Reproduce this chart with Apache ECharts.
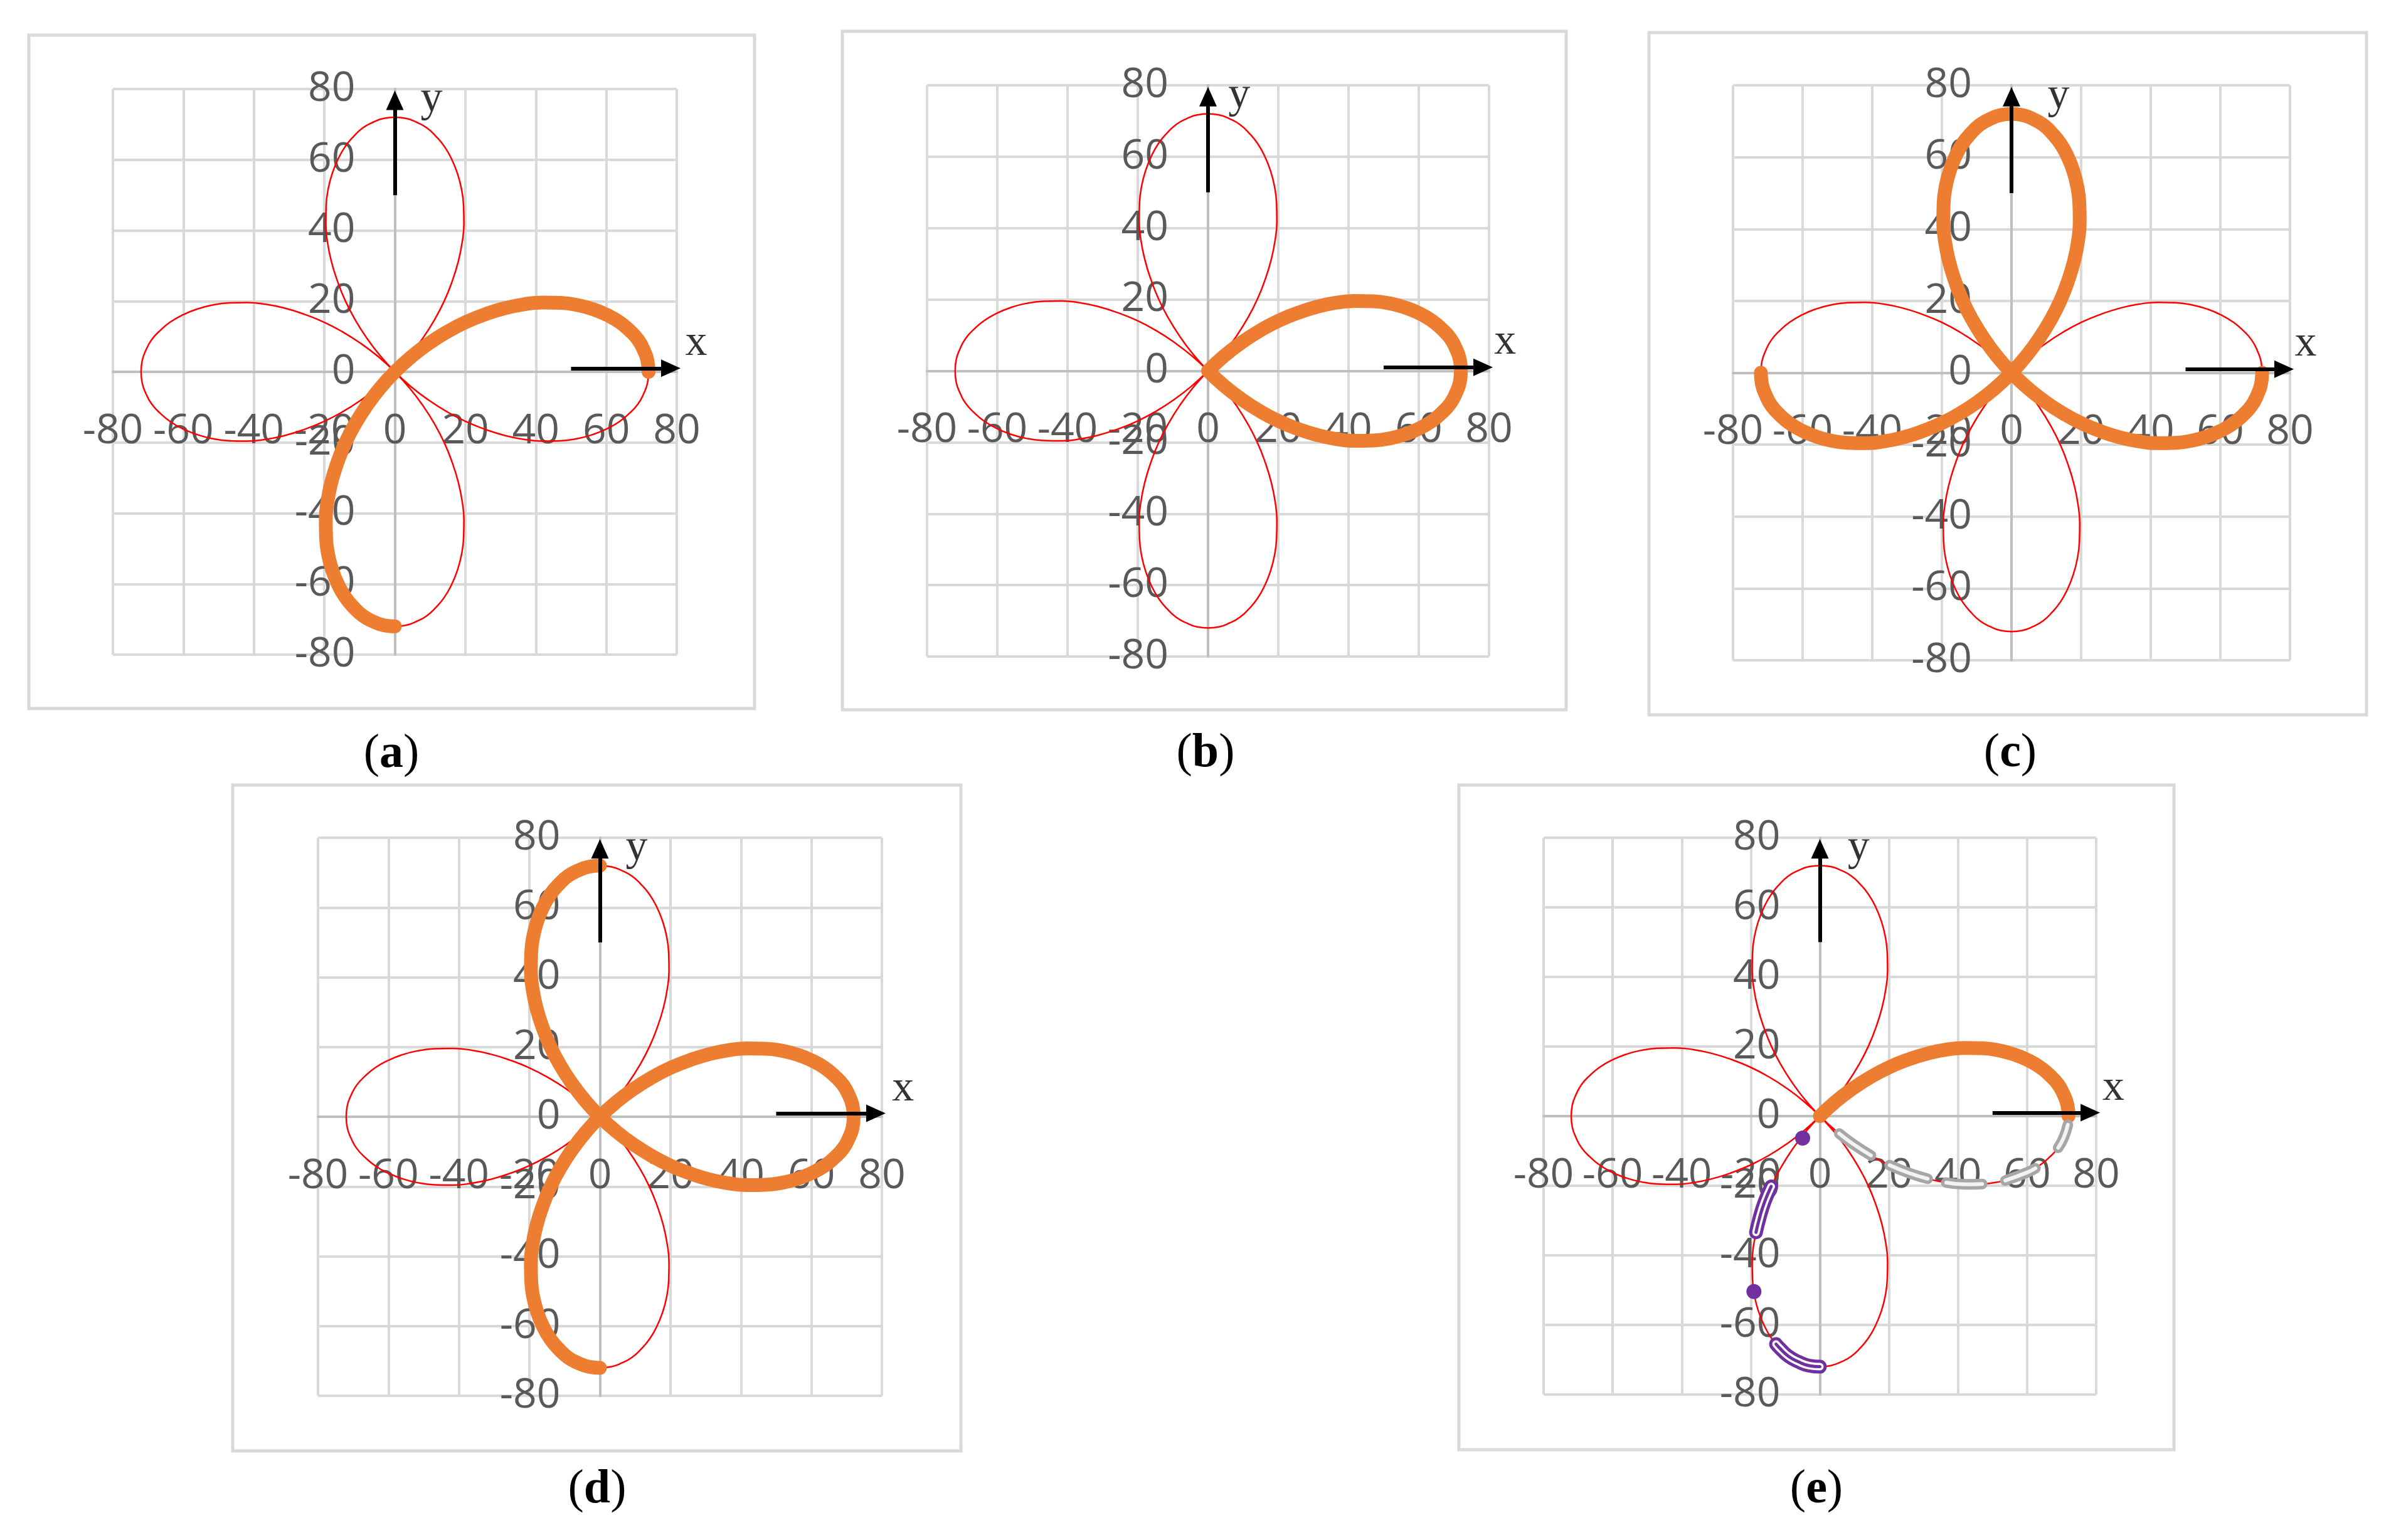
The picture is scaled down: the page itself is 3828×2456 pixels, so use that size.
<!DOCTYPE html>
<html>
<head>
<meta charset="utf-8">
<title>Four-leaf rose paths</title>
<script src="https://cdn.jsdelivr.net/npm/echarts@6/dist/echarts.min.js"></script>
<style>
  html, body { margin: 0; padding: 0; background: #fff; }
  #chart { width: 3828px; height: 2456px; }
</style>
</head>
<body>
<div id="chart"></div>
<script>
// axis ticks (same on both axes, every panel)
const axisMin = -80;
const axisMax = 80;
const axisStep = 20;

// the rose, half a petal per array, in drawing order
const rightUpper = [[72, 0], [71.7, 3.1], [70.6, 6.2], [69.0, 9.1], [66.6, 11.7], [63.7, 14.1], [60.2, 16.1], [56.3, 17.7], [51.8, 18.9], [47.0, 19.5], [41.9, 19.6], [36.6, 19.1], [31.2, 18.0], [25.7, 16.3], [20.2, 14.1], [14.8, 11.3], [9.6, 8.0], [4.6, 4.2], [0, 0]];
const bottomLeft = [[0, 0], [-4.2, -4.6], [-8.0, -9.6], [-11.3, -14.8], [-14.1, -20.2], [-16.3, -25.7], [-18.0, -31.2], [-19.1, -36.6], [-19.6, -41.9], [-19.5, -47.0], [-18.9, -51.8], [-17.7, -56.3], [-16.1, -60.2], [-14.1, -63.7], [-11.7, -66.6], [-9.1, -69.0], [-6.2, -70.6], [-3.1, -71.7], [0, -72]];
const bottomRight = [[0, -72], [3.1, -71.7], [6.2, -70.6], [9.1, -69.0], [11.7, -66.6], [14.1, -63.7], [16.1, -60.2], [17.7, -56.3], [18.9, -51.8], [19.5, -47.0], [19.6, -41.9], [19.1, -36.6], [18.0, -31.2], [16.3, -25.7], [14.1, -20.2], [11.3, -14.8], [8.0, -9.6], [4.2, -4.6], [0, 0]];
const leftUpper = [[0, 0], [-4.6, 4.2], [-9.6, 8.0], [-14.8, 11.3], [-20.2, 14.1], [-25.7, 16.3], [-31.2, 18.0], [-36.6, 19.1], [-41.9, 19.6], [-47.0, 19.5], [-51.8, 18.9], [-56.3, 17.7], [-60.2, 16.1], [-63.7, 14.1], [-66.6, 11.7], [-69.0, 9.1], [-70.6, 6.2], [-71.7, 3.1], [-72, 0]];
const leftLower = [[-72, 0], [-71.7, -3.1], [-70.6, -6.2], [-69.0, -9.1], [-66.6, -11.7], [-63.7, -14.1], [-60.2, -16.1], [-56.3, -17.7], [-51.8, -18.9], [-47.0, -19.5], [-41.9, -19.6], [-36.6, -19.1], [-31.2, -18.0], [-25.7, -16.3], [-20.2, -14.1], [-14.8, -11.3], [-9.6, -8.0], [-4.6, -4.2], [0, 0]];
const topRight = [[0, 0], [4.2, 4.6], [8.0, 9.6], [11.3, 14.8], [14.1, 20.2], [16.3, 25.7], [18.0, 31.2], [19.1, 36.6], [19.6, 41.9], [19.5, 47.0], [18.9, 51.8], [17.7, 56.3], [16.1, 60.2], [14.1, 63.7], [11.7, 66.6], [9.1, 69.0], [6.2, 70.6], [3.1, 71.7], [0, 72]];
const topLeft = [[0, 72], [-3.1, 71.7], [-6.2, 70.6], [-9.1, 69.0], [-11.7, 66.6], [-14.1, 63.7], [-16.1, 60.2], [-17.7, 56.3], [-18.9, 51.8], [-19.5, 47.0], [-19.6, 41.9], [-19.1, 36.6], [-18.0, 31.2], [-16.3, 25.7], [-14.1, 20.2], [-11.3, 14.8], [-8.0, 9.6], [-4.2, 4.6], [0, 0]];
const rightLower = [[0, 0], [4.6, -4.2], [9.6, -8.0], [14.8, -11.3], [20.2, -14.1], [25.7, -16.3], [31.2, -18.0], [36.6, -19.1], [41.9, -19.6], [47.0, -19.5], [51.8, -18.9], [56.3, -17.7], [60.2, -16.1], [63.7, -14.1], [66.6, -11.7], [69.0, -9.1], [70.6, -6.2], [71.7, -3.1], [72, 0]];

// which halves are drawn thick in each panel
const panelNames = ['a', 'b', 'c', 'd', 'e'];
const orangeParts = {
  a: [rightUpper, bottomLeft],
  b: [rightLower, rightUpper],
  c: [leftLower, topRight, topLeft, rightLower],
  d: [topLeft, rightLower, rightUpper, bottomLeft],
  e: [rightUpper]
};

// panel (e): dashed gray / purple pieces and purple dots
const grayDashes = [
  [[5.6, -5.0], [9.6, -8.0], [14.8, -11.3]],
  [[20.2, -14.1], [25.7, -16.3], [31.2, -18.0]],
  [[36.6, -19.1], [41.9, -19.6], [47.0, -19.5]],
  [[53.7, -18.5], [60.2, -16.1], [62.4, -15.0]],
  [[69.0, -9.1], [70.6, -6.2], [71.8, -2.5]]
];
const purpleDashes = [
  [[-14.1, -20.2], [-16.0, -24.6], [-17.4, -29.0], [-18.5, -33.4]],
  [[-12.7, -65.5], [-11.7, -66.6], [-9.1, -69.0], [-6.2, -70.6], [-3.1, -71.7], [0, -72]]
];
const purpleDots = [[-5.0, -6.3], [-19.1, -50.4]];

// arrows and their letters
const arrowX = [[50, 1], [78.3, 1]];
const arrowY = [[0, 50], [0, 76.8]];
const labelX = [[85.5, 8], [84.6, 8], [84.5, 8], [86, 8], [85, 8]];
const labelY = [[10.4, 77], [8.9, 77], [13.5, 77], [10.4, 77], [11.2, 77]];

// page layout: outer box, plot area, caption centre (pixels)
const layout = [
  { box: [46, 56, 1203, 1130], plot: [180, 142, 1079, 1044], cap: [624, 1203] },
  { box: [1343, 50, 2497, 1132], plot: [1478, 136, 2374, 1047], cap: [1922, 1202] },
  { box: [2629, 52, 3773, 1140], plot: [2763, 136, 3651, 1053], cap: [3205, 1202] },
  { box: [371, 1252, 1532, 2314], plot: [507, 1336, 1406, 2226], cap: [952, 2376] },
  { box: [2326, 1252, 3466, 2312], plot: [2461, 1336, 3342, 2224], cap: [2896, 2376] }
];

function joinPath(parts) {
  const out = [];
  parts.forEach((p, i) => { out.push(...(i === 0 ? p : p.slice(1))); });
  return out;
}

const roseFull = joinPath([bottomLeft, bottomRight, leftUpper, leftLower, topRight, topLeft, rightLower, rightUpper]);

// axes sit through the middle (0 is the centre of -80..80), moved there with offset
const axisCommon = (i, margin, offset) => ({
  gridIndex: i,
  type: 'value',
  min: axisMin,
  max: axisMax,
  interval: axisStep,
  offset: offset,
  axisLine: { onZero: false, lineStyle: { color: '#bfbfbf', width: 4 } },
  axisTick: { show: false },
  axisLabel: {
    color: '#595959', fontFamily: 'Open Sans', fontSize: 66, margin: margin,
    showMinLabel: true, showMaxLabel: true
  },
  splitLine: { show: true, lineStyle: { color: '#d9d9d9', width: 4 } }
});

const series = [];
panelNames.forEach((id, i) => {
  const ax = { xAxisIndex: i, yAxisIndex: i };
  // thin red rose
  series.push({
    ...ax, type: 'line', data: roseFull, smooth: true, symbol: 'none', clip: false, silent: true, z: 2,
    lineStyle: { color: '#ff0000', width: 2.5 }
  });
  // thick orange path
  series.push({
    ...ax, type: 'line', data: joinPath(orangeParts[id]), smooth: true, symbol: 'none', clip: false, silent: true, z: 3,
    lineStyle: { color: '#ed7d31', width: 22, cap: 'round', join: 'round' }
  });
  // x / y letters + arrows
  series.push({
    ...ax, type: 'scatter', clip: false, silent: true, z: 10,
    symbolSize: 1, itemStyle: { color: 'transparent' },
    data: [{ name: 'x', value: labelX[i] }, { name: 'y', value: labelY[i] }],
    label: {
      show: true, position: 'inside', formatter: '{b}',
      fontFamily: 'Liberation Serif', fontSize: 70, color: '#000'
    },
    markLine: {
      silent: true, symbol: ['none', 'triangle'], symbolSize: [28, 31],
      lineStyle: { color: '#000', width: 6, type: 'solid' },
      label: { show: false },
      data: [
        [{ coord: arrowX[0] }, { coord: arrowX[1] }],
        [{ coord: arrowY[0] }, { coord: arrowY[1] }]
      ]
    }
  });
});

// panel (e) extras
const e = { xAxisIndex: 4, yAxisIndex: 4 };
grayDashes.forEach(d => {
  series.push({ ...e, type: 'line', data: d, smooth: true, symbol: 'none', clip: false, silent: true, z: 4,
    lineStyle: { color: '#a6a6a6', width: 17, cap: 'round' } });
  series.push({ ...e, type: 'line', data: d, smooth: true, symbol: 'none', clip: false, silent: true, z: 5,
    lineStyle: { color: '#f2f2f2', width: 6, cap: 'round' } });
});
purpleDashes.forEach(d => {
  series.push({ ...e, type: 'line', data: d, smooth: true, symbol: 'none', clip: false, silent: true, z: 4,
    lineStyle: { color: '#7030a0', width: 22, cap: 'round' } });
  series.push({ ...e, type: 'line', data: d, smooth: true, symbol: 'none', clip: false, silent: true, z: 5,
    lineStyle: { color: '#ffffff', width: 12, cap: 'round' } });
  series.push({ ...e, type: 'line', data: d, smooth: true, symbol: 'none', clip: false, silent: true, z: 6,
    lineStyle: { color: '#7030a0', width: 5, cap: 'round' } });
});
series.push({ ...e, type: 'scatter', data: purpleDots, symbolSize: 24, clip: false, silent: true, z: 6,
  itemStyle: { color: '#7030a0', opacity: 1 } });

// boxes and captions
const graphic = [];
layout.forEach((l, i) => {
  graphic.push({
    type: 'rect', z: -10, silent: true,
    shape: { x: l.box[0], y: l.box[1], width: l.box[2] - l.box[0], height: l.box[3] - l.box[1] },
    style: { fill: 'none', stroke: '#d9d9d9', lineWidth: 5 }
  });
  graphic.push({
    type: 'text', x: l.cap[0], y: l.cap[1], silent: true,
    style: {
      text: '({b|' + panelNames[i] + '})',
      font: '76px "Liberation Serif"', fill: '#000',
      align: 'center', verticalAlign: 'middle',
      rich: { b: { fontFamily: 'Liberation Serif', fontSize: 76, fontWeight: 'bold', fill: '#000' } }
    }
  });
});

const chart = echarts.init(document.getElementById('chart'));
chart.setOption({
  animation: false,
  backgroundColor: '#fff',
  grid: layout.map(l => ({
    left: l.plot[0], top: l.plot[1],
    width: l.plot[2] - l.plot[0], height: l.plot[3] - l.plot[1]
  })),
  xAxis: layout.map((l, i) => axisCommon(i, 62, -(l.plot[3] - l.plot[1]) / 2)),
  yAxis: layout.map((l, i) => axisCommon(i, 63, -(l.plot[2] - l.plot[0]) / 2)),
  graphic: graphic,
  series: series
});

window.addEventListener('resize', function () {
  chart.resize();
});
</script>
</body>
</html>
